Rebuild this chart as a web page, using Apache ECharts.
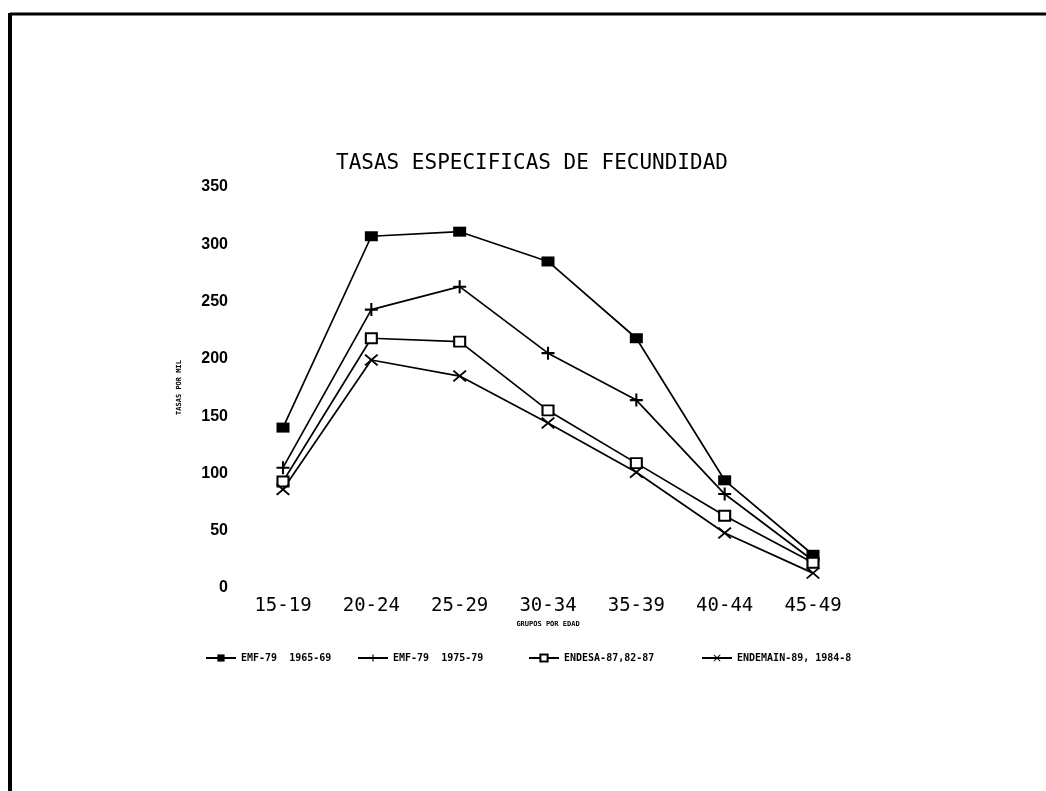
<!DOCTYPE html>
<html>
<head>
<meta charset="utf-8">
<script src="https://cdn.jsdelivr.net/npm/echarts@6/dist/echarts.min.js"></script>
<style>
  html, body { margin: 0; padding: 0; background: #fff; }
  #chart { width: 1046px; height: 791px; }
</style>
</head>
<body>
<div id="chart"></div>
<script>
// grupos de edad
const ageGroups = ['15-19', '20-24', '25-29', '30-34', '35-39', '40-44', '45-49']
const yTicks = { min: 0, max: 350, interval: 50 }

// tasas por mil
const emf79a = [140, 307, 311, 285, 218, 94, 29]     // EMF-79 1965-69
const emf79b = [105, 243, 263, 205, 164, 82, 24]     // EMF-79 1975-79
const endesa87 = [93, 218, 215, 155, 109, 63, 22]    // ENDESA-87,82-87
const endemain89 = [86, 199, 185, 144, 101, 48, 13]  // ENDEMAIN-89, 1984-8

const seriesNames = ['EMF-79  1965-69', 'EMF-79  1975-79', 'ENDESA-87,82-87', 'ENDEMAIN-89, 1984-8']

const mono = "'DejaVu Sans Mono', monospace"
const plusPath = 'path://M4.2,0h1.6v4.2h4.2v1.6h-4.2v4.2h-1.6v-4.2h-4.2v-1.6h4.2z'
const crossPath = 'path://M0,1L1,0L5,4L9,0L10,1L6,5L10,9L9,10L5,6L1,10L0,9L4,5Z'

const line = { color: '#000', width: 1.7 }
const mkSeries = (name, data, symbol, size, extra = {}) => ({
  name, type: 'line', data, symbol, symbolSize: size,
  lineStyle: line, itemStyle: { color: '#000', ...extra }, z: 3
})

const legendText = { fontFamily: mono, fontWeight: 'bold', fontSize: 10, color: '#000' }
const mkLegend = (name, left) => ({
  data: [name], left, top: 648, itemWidth: 30, itemHeight: 9, itemGap: 4,
  textStyle: legendText, selectedMode: false
})

const chart = echarts.init(document.getElementById('chart'), null, { renderer: 'canvas' })
chart.setOption({
  backgroundColor: '#fff',
  animation: false,
  title: {
    text: 'TASAS ESPECIFICAS DE FECUNDIDAD', left: 331, top: 148,
    textStyle: { fontFamily: mono, fontWeight: 'normal', fontSize: 21, color: '#000' }
  },
  legend: [
    mkLegend(seriesNames[0], 200),
    mkLegend(seriesNames[1], 352),
    mkLegend(seriesNames[2], 523),
    mkLegend(seriesNames[3], 696)
  ],
  grid: { left: 283, right: 233, top: 187, bottom: 203 },
  xAxis: {
    type: 'category', data: ageGroups, boundaryGap: false,
    name: 'GRUPOS POR EDAD', nameLocation: 'middle', nameGap: 33,
    nameTextStyle: { fontFamily: mono, fontWeight: 'bold', fontSize: 7, color: '#000' },
    axisLine: { show: false }, axisTick: { show: false },
    axisLabel: { fontFamily: mono, fontSize: 19, color: '#000', margin: 9 }
  },
  yAxis: {
    type: 'value', ...yTicks,
    name: 'TASAS POR MIL', nameLocation: 'middle', nameGap: 100, nameRotate: 90,
    nameTextStyle: { fontFamily: mono, fontWeight: 'bold', fontSize: 7, color: '#000' },
    axisLine: { show: false }, axisTick: { show: false }, splitLine: { show: false },
    axisLabel: { fontFamily: "'Liberation Sans', Arial, sans-serif", fontWeight: 'bold', fontSize: 16, color: '#000', margin: 55 }
  },
  graphic: [
    { type: 'line', shape: { x1: 10, y1: 14, x2: 1046, y2: 14 }, style: { stroke: '#000', lineWidth: 3 } },
    { type: 'line', shape: { x1: 10, y1: 13, x2: 10, y2: 791 }, style: { stroke: '#000', lineWidth: 4 } }
  ],
  series: [
    mkSeries(seriesNames[0], emf79a, 'rect', [13, 10]),
    mkSeries(seriesNames[1], emf79b, plusPath, [13, 13]),
    mkSeries(seriesNames[2], endesa87, 'emptyRect', [11, 10], { borderWidth: 1.3, borderColor: '#000' }),
    mkSeries(seriesNames[3], endemain89, crossPath, [14, 12])
  ]
})
</script>
</body>
</html>
